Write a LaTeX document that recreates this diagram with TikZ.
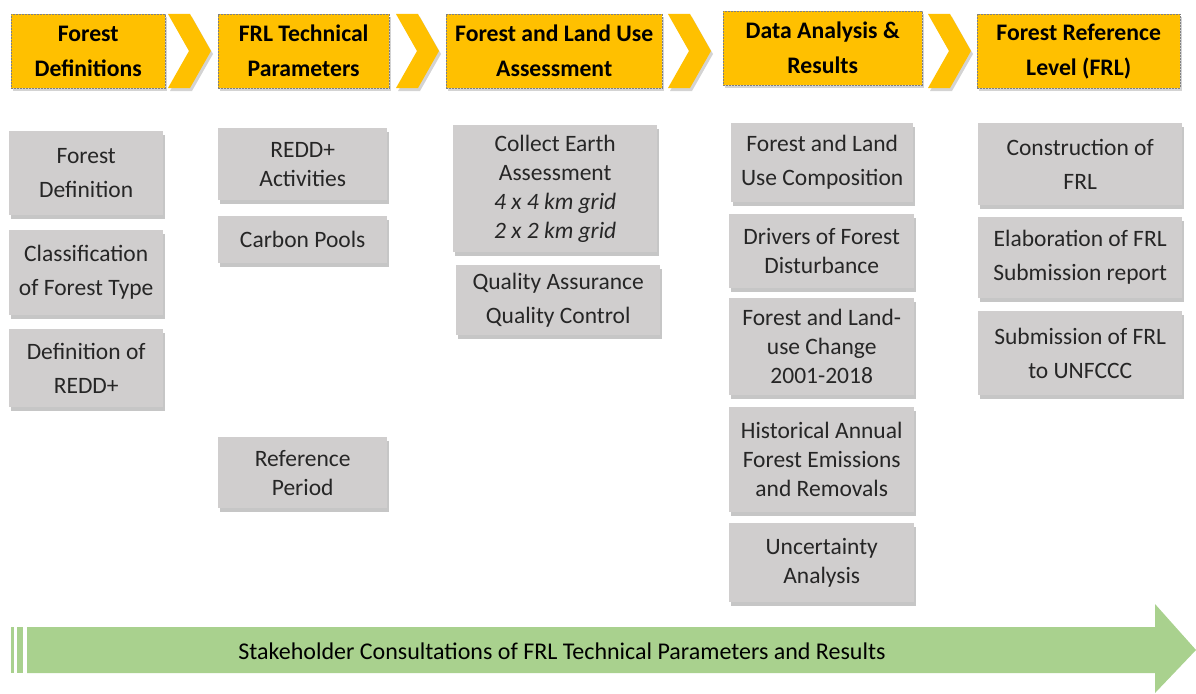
\documentclass[tikz,border=0pt]{standalone}
\usepackage{fontspec}
\setmainfont{Carlito}
\usetikzlibrary{shadows}

\definecolor{hdrorange}{HTML}{FFC000}
\definecolor{boxgrey}{HTML}{D0CECE}
\definecolor{arrowgreen}{HTML}{A9D18E}
\definecolor{txtgrey}{HTML}{262626}

\tikzset{
  header/.style={anchor=north west, draw=gray, dash pattern=on 2pt off 1pt, fill=hdrorange,
    align=center, inner sep=0pt, font=\fontsize{23.7}{35}\selectfont\bfseries,
    drop shadow={shadow xshift=2pt, shadow yshift=-3pt, opacity=0.35}},
  chev/.style={fill=hdrorange, drop shadow={shadow xshift=2pt, shadow yshift=-3pt, opacity=0.35}},
  greybox/.style={anchor=north west, fill=boxgrey, text=txtgrey, align=center, inner sep=0pt,
    font=\fontsize{23.5}{29}\selectfont,
    drop shadow={shadow xshift=1.5pt, shadow yshift=-3.5pt, opacity=0.45}},
  loose/.style={font=\fontsize{23.5}{34}\selectfont},
}

\begin{document}
\begin{tikzpicture}[x=1pt,y=-1pt]
\useasboundingbox (0,0) rectangle (1196,693);

% step headers
\node[header, minimum width=154, minimum height=74] (hdefs) at (11,14) {Forest\\Definitions};
\node[header, minimum width=171, minimum height=74] (hparams) at (218,14) {FRL Technical\\Parameters};
\node[header, minimum width=216, minimum height=74] (hassess) at (446,14) {Forest and Land Use\\Assessment};
\node[header, minimum width=199, minimum height=74] (hdata) at (723,11) {Data Analysis \&\\Results};
\node[header, minimum width=203, minimum height=74] (hfrl) at (977,14) {Forest Reference\\Level (FRL)};

% chevrons between the headers
\foreach \cx in {168,396,668,928}
  \fill[chev] (\cx,14) -- ++(22,0) -- ++(21,37) -- ++(-21,37) -- ++(-22,0) -- ++(21,-37) -- cycle;

% column 1
\node[greybox, loose, minimum width=154, minimum height=84] (fdef) at (9,131) {Forest\\Definition};
\node[greybox, loose, minimum width=154, minimum height=85] (fclass) at (9,230) {Classification\\of Forest Type};
\node[greybox, loose, minimum width=154, minimum height=78] (fredd) at (9,329) {Definition of\\REDD+};

% column 2
\node[greybox, minimum width=169, minimum height=72] (pact) at (218,128) {REDD+\\Activities};
\node[greybox, minimum width=169, minimum height=47] (ppools) at (218,216) {Carbon Pools};
\node[greybox, minimum width=169, minimum height=71] (pperiod) at (218,437) {Reference\\Period};

% column 3
\node[greybox, minimum width=204, minimum height=127] (acollect) at (453,125)
  {Collect Earth\\Assessment\\\textit{4 x 4 km grid}\\\textit{2 x 2 km grid}};
\node[greybox, loose, minimum width=204, minimum height=70] (aqaqc) at (456,265) {Quality Assurance\\Quality Control};

% column 4
\node[greybox, loose, minimum width=182, minimum height=79] (dcomp) at (731,123) {Forest and Land\\Use Composition};
\node[greybox, minimum width=185, minimum height=74] (ddrivers) at (729,214) {Drivers of Forest\\Disturbance};
\node[greybox, minimum width=185, minimum height=97] (dchange) at (729,298) {Forest and Land-\\use Change\\2001-2018};
\node[greybox, minimum width=185, minimum height=105] (demis) at (729,407) {Historical Annual\\Forest Emissions\\and Removals};
\node[greybox, minimum width=185, minimum height=79] (duncert) at (729,523) {Uncertainty\\Analysis};

% column 5
\node[greybox, loose, minimum width=204, minimum height=82] (fconst) at (978,123) {Construction of\\FRL};
\node[greybox, loose, minimum width=204, minimum height=81] (felab) at (978,217) {Elaboration of FRL\\Submission report};
\node[greybox, loose, minimum width=204, minimum height=84] (fsubm) at (978,311) {Submission of FRL\\to UNFCCC};

% stakeholder arrow
\fill[arrowgreen] (11,627) rectangle (14,673);
\fill[arrowgreen] (17,627) rectangle (23,673);
\fill[arrowgreen] (27,627) -- (1155,627) -- (1155,604) -- (1196,650) -- (1155,693) -- (1155,673) -- (27,673) -- cycle;
\node[font=\fontsize{24}{28}\selectfont, text=black] (stake) at (562,651)
  {Stakeholder Consultations of FRL Technical Parameters and Results};
\end{tikzpicture}
\end{document}
